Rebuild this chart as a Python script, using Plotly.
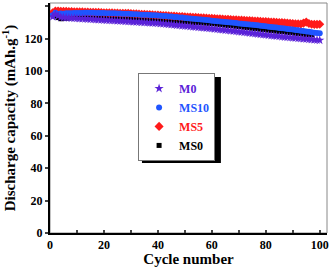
import plotly.graph_objects as go

cycles = list(range(1, 101))
cycles_ms0 = list(range(1, 98))

m0 = [133.5, 135.0, 134.0, 133.2, 133.0, 132.9, 132.8, 132.7, 132.6, 132.5,
      132.4, 132.3, 132.2, 132.1, 132.0, 131.9, 131.8, 131.7, 131.6, 131.5,
      131.4, 131.3, 131.2, 131.1, 131.0, 130.9, 130.8, 130.7, 130.6, 130.5,
      130.4, 130.3, 130.2, 130.1, 130.0, 129.9, 129.8, 129.7, 129.6, 129.5,
      129.3, 129.2, 129.0, 128.8, 128.7, 128.5, 128.3, 128.2, 128.0, 127.8,
      127.7, 127.5, 127.3, 127.2, 127.0, 126.8, 126.7, 126.5, 126.4, 126.2,
      126.0, 125.8, 125.6, 125.4, 125.2, 125.1, 124.9, 124.7, 124.5, 124.3,
      124.1, 123.9, 123.7, 123.5, 123.3, 123.1, 122.9, 122.7, 122.5, 122.3,
      122.1, 121.9, 121.7, 121.6, 121.4, 121.2, 121.0, 120.9, 120.7, 120.5,
      120.4, 120.2, 120.1, 119.9, 119.8, 119.6, 119.5, 119.3, 119.2, 119.0]

ms10 = [134.5, 136.0, 135.2, 135.5, 135.4, 135.6, 135.7, 135.7, 135.8, 135.8,
        135.9, 135.9, 136.0, 136.0, 136.0, 136.0, 135.9, 135.9, 135.8, 135.8,
        135.7, 135.7, 135.6, 135.6, 135.5, 135.5, 135.4, 135.4, 135.3, 135.2,
        135.1, 135.0, 134.9, 134.8, 134.8, 134.7, 134.6, 134.5, 134.4, 134.3,
        134.2, 134.0, 133.9, 133.7, 133.6, 133.4, 133.3, 133.1, 133.0, 132.8,
        132.6, 132.5, 132.3, 132.1, 132.0, 131.8, 131.6, 131.5, 131.3, 131.1,
        130.9, 130.8, 130.6, 130.4, 130.3, 130.1, 129.9, 129.8, 129.6, 129.4,
        129.2, 129.1, 128.9, 128.7, 128.5, 128.4, 128.2, 128.0, 127.8, 127.6,
        127.4, 127.2, 127.0, 126.8, 126.6, 126.4, 126.2, 126.0, 125.8, 125.6,
        125.4, 125.1, 124.9, 124.7, 124.4, 124.2, 124.0, 123.7, 123.5, 123.3]

ms5 = [136.0, 137.0, 137.0, 136.9, 136.8, 136.8, 136.7, 136.7, 136.6, 136.6,
       136.5, 136.5, 136.4, 136.4, 136.3, 136.3, 136.2, 136.2, 136.1, 136.0,
       136.0, 135.9, 135.9, 135.8, 135.8, 135.7, 135.7, 135.6, 135.6, 135.5,
       135.4, 135.3, 135.2, 135.1, 135.0, 134.9, 134.8, 134.7, 134.6, 134.5,
       134.4, 134.3, 134.2, 134.1, 134.0, 133.9, 133.8, 133.7, 133.6, 133.5,
       133.4, 133.3, 133.2, 133.1, 133.0, 132.9, 132.8, 132.7, 132.6, 132.5,
       132.4, 132.3, 132.2, 132.1, 132.0, 131.9, 131.8, 131.7, 131.6, 131.5,
       131.4, 131.3, 131.2, 131.1, 131.0, 130.9, 130.8, 130.7, 130.6, 130.5,
       130.4, 130.3, 130.2, 130.1, 130.0, 129.9, 129.8, 129.6, 129.5, 129.3,
       129.2, 129.1, 129.0, 129.6, 130.2, 129.3, 128.9, 128.8, 128.8, 128.9]

ms0 = [134.8, 134.0, 133.0, 132.3, 132.4, 132.6, 132.8, 132.9, 133.0, 133.0,
       133.1, 133.1, 133.2, 133.2, 133.3, 133.3, 133.3, 133.3, 133.3, 133.2,
       133.2, 133.1, 133.1, 133.0, 132.9, 132.8, 132.8, 132.7, 132.6, 132.5,
       132.4, 132.3, 132.2, 132.1, 132.0, 131.9, 131.8, 131.7, 131.6, 131.5,
       131.4, 131.3, 131.2, 131.1, 131.0, 130.9, 130.8, 130.7, 130.6, 130.5,
       130.4, 130.2, 130.1, 130.0, 129.9, 129.8, 129.7, 129.6, 129.5, 129.3,
       129.2, 129.0, 128.8, 128.6, 128.4, 128.2, 128.1, 127.9, 127.7, 127.5,
       127.3, 127.1, 126.9, 126.7, 126.5, 126.3, 126.1, 125.9, 125.7, 125.5,
       125.3, 125.1, 124.9, 124.7, 124.5, 124.4, 124.2, 124.0, 123.8, 123.6,
       123.4, 123.2, 123.0, 122.8, 122.6, 122.4, 122.3]

x_ticks = [0, 20, 40, 60, 80, 100]
y_ticks = [0, 20, 40, 60, 80, 100, 120, 140]

C_M0 = "#5a22d8"
C_MS10 = "#1f55ff"
C_MS5 = "#ff1a1a"
C_MS0 = "#000000"

font_family = "Liberation Serif"

fig = go.Figure()
fig.add_trace(go.Scatter(x=cycles_ms0, y=ms0, mode="markers",
                         name="<b><span style='color:%s'>MS0</span></b>" % C_MS0,
                         marker=dict(symbol="square", size=5, color=C_MS0)))
fig.add_trace(go.Scatter(x=cycles, y=ms5, mode="markers",
                         name="<b><span style='color:%s'>MS5</span></b>" % C_MS5,
                         marker=dict(symbol="diamond", size=7, color=C_MS5)))
fig.add_trace(go.Scatter(x=cycles, y=ms10, mode="markers",
                         name="<b><span style='color:%s'>MS10</span></b>" % C_MS10,
                         marker=dict(symbol="circle", size=6, color=C_MS10)))
fig.add_trace(go.Scatter(x=cycles, y=m0, mode="markers",
                         name="<b><span style='color:%s'>M0</span></b>" % C_M0,
                         marker=dict(symbol="star", size=7, color=C_M0)))

# legend shadow
fig.add_shape(type="rect", xref="paper", yref="paper",
              x0=0.332, x1=0.617, y0=0.304, y1=0.678,
              fillcolor="black", line=dict(width=0), layer="above")
# frame
fig.add_shape(type="rect", xref="paper", yref="paper", x0=0, x1=1, y0=0, y1=1,
              line=dict(color="#888888", width=1), layer="below")

fig.update_layout(
    width=331, height=267,
    margin=dict(l=50, r=4, t=3, b=34),
    paper_bgcolor="white", plot_bgcolor="white",
    font=dict(family=font_family, color="black", size=13),
    showlegend=True,
    legend=dict(x=0.318, y=0.696, xanchor="left", yanchor="top",
                traceorder="reversed", bgcolor="white",
                bordercolor="#777777", borderwidth=1,
                font=dict(family=font_family, size=12),
                itemwidth=30, tracegroupgap=0),
    xaxis=dict(range=[0, 102.7], tickvals=x_ticks, ticks="inside", ticklen=3,
               tickwidth=1.5, showgrid=False, zeroline=False, automargin=False,
               showline=True, linecolor="black", linewidth=2,
               minor=dict(dtick=10, tick0=0, ticks="inside", ticklen=3, tickwidth=1.5),
               tickfont=dict(family=font_family, size=12, weight="bold"),
               title=dict(text="<b>Cycle number</b>", standoff=1,
                          font=dict(family=font_family, size=15))),
    yaxis=dict(range=[0, 142], tickvals=y_ticks, ticks="outside", ticklen=3,
               tickwidth=1.5, showgrid=False, zeroline=False, automargin=False,
               showline=True, linecolor="black", linewidth=2,
               tickfont=dict(family=font_family, size=12, weight="bold"),
               title=dict(text="<b>Discharge capacity (mAh.g<sup>-1</sup>)</b>", standoff=5,
                          font=dict(family=font_family, size=15))),
)

fig.write_html("out.html", config={"displayModeBar": False},
               post_script="document.body.style.margin='0';document.body.style.overflow='hidden';")
